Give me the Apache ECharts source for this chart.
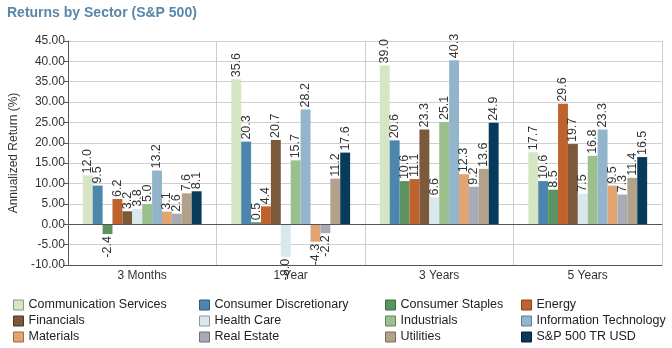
<!DOCTYPE html>
<html><head><meta charset="utf-8">
<script src="https://cdn.jsdelivr.net/npm/echarts@6/dist/echarts.min.js"></script>
<style>html,body{margin:0;padding:0;background:#fff}#c{width:672px;height:348px}</style>
</head><body><div id="c"></div>
<script>
const categories = ['3 Months', '1 Year', '3 Years', '5 Years'];
const yTicks = { min: -10, max: 45, interval: 5 };
const seriesNames = ['Communication Services','Consumer Discretionary','Consumer Staples','Energy',
  'Financials','Health Care','Industrials','Information Technology',
  'Materials','Real Estate','Utilities','S&P 500 TR USD'];
const commServices = [12.0, 35.6, 39.0, 17.7];
const consDisc     = [9.5, 20.3, 20.6, 10.6];
const consStaples  = [-2.4, 0.5, 10.6, 8.5];
const energy       = [6.2, 4.4, 11.1, 29.6];
const financials   = [3.2, 20.7, 23.3, 19.7];
const healthCare   = [3.8, -8.0, 6.6, 7.5];
const industrials  = [5.0, 15.7, 25.1, 16.8];
const infoTech     = [13.2, 28.2, 40.3, 23.3];
const materials    = [3.1, -4.3, 12.3, 9.5];
const realEstate   = [2.6, -2.2, 9.2, 7.3];
const utilities    = [7.6, 11.2, 13.6, 11.4];
const sp500        = [8.1, 17.6, 24.9, 16.5];
const allValues = [commServices, consDisc, consStaples, energy, financials, healthCare,
  industrials, infoTech, materials, realEstate, utilities, sp500];
const colors = ['#d4e6c3','#4c86ad','#5b9460','#c0622e','#7b5a3c','#d9e7ee',
  '#9bc08e','#93b5cc','#e1a473','#a7abb6','#b3a28b','#073b5c'];
const borders = ['#8a9a7c','#2f5a78','#3b6a3f','#8a4018','#4d3520','#8a9aa4',
  '#62855a','#5f7f96','#9a6a40','#6b6f7a','#7a6a55','#02223a'];

const FONT = 'Liberation Sans, Arial, sans-serif';

const series = seriesNames.map((name, i) => ({
  name, type: 'bar',
  barGap: '0%', barCategoryGap: '20%',
  itemStyle: { color: colors[i] },
  label: {
    show: true, position: 'outside', rotate: 90, distance: 2,
    fontFamily: FONT, fontSize: 12.5, color: '#333',
    formatter: p => p.value.toFixed(1)
  },
  data: allValues[i].map(v => ({
    value: v,
    label: { align: v < 0 ? 'right' : 'left', verticalAlign: 'middle' }
  })),
  markLine: i === 0 ? {
    silent: true, symbol: 'none', label: { show: false },
    lineStyle: { color: '#555', width: 1, type: 'solid' },
    data: [{ yAxis: 0 }]
  } : undefined
}));

const legendCols = [13, 199, 385, 521];
const legends = legendCols.map((x, c) => ({
  orient: 'vertical', left: x, top: 298, padding: 0,
  itemWidth: 10, itemHeight: 10, itemGap: 2,
  icon: 'rect',
  textStyle: { fontFamily: FONT, fontSize: 12.5, lineHeight: 14, color: '#222' },
  data: [0,1,2].map(r => {
    const idx = r * 4 + c;
    return { name: seriesNames[idx], itemStyle: { color: colors[idx], borderColor: borders[idx], borderWidth: 1 } };
  })
}));

const chart = echarts.init(document.getElementById('c'), null, { renderer: 'canvas' });
chart.setOption({
  animation: false,
  backgroundColor: '#fff',
  title: {
    text: 'Returns by Sector (S&P 500)', left: 2, top: 1,
    textStyle: { fontFamily: FONT, fontSize: 14, fontWeight: 'bold', color: '#5a87a8' }
  },
  legend: legends,
  grid: { left: 62, right: 10, top: 41, bottom: 83 },
  xAxis: {
    type: 'category', data: categories,
    axisLine: { onZero: false, lineStyle: { color: '#555' } },
    axisTick: { alignWithLabel: true, length: 4, lineStyle: { color: '#555' } },
    axisLabel: { fontFamily: FONT, fontSize: 12, color: '#333', margin: 5 },
    splitLine: { show: true, lineStyle: { color: '#ccc' } }
  },
  yAxis: {
    type: 'value', min: yTicks.min, max: yTicks.max, interval: yTicks.interval,
    name: 'Annualized Return (%)', nameLocation: 'middle', nameGap: 46, nameRotate: 90,
    nameTextStyle: { fontFamily: FONT, fontSize: 12, color: '#333' },
    axisLine: { show: true, lineStyle: { color: '#555' } },
    axisTick: { show: true, length: 4, lineStyle: { color: '#555' } },
    axisLabel: { fontFamily: FONT, fontSize: 12, color: '#333', margin: 3, formatter: v => v.toFixed(2) },
    splitLine: { lineStyle: { color: '#d0d0d0' } }
  },
  series
});
</script></body></html>
